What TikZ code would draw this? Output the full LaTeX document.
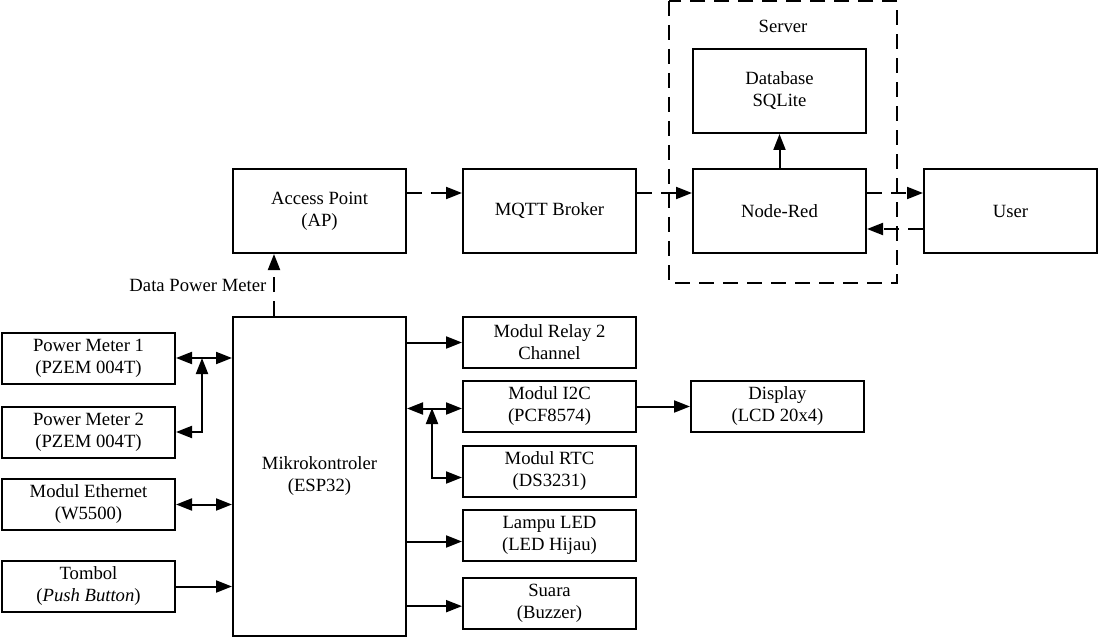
\documentclass[tikz,border=0pt]{standalone}
\usepackage{fontspec}
\setmainfont{Liberation Serif}
\usetikzlibrary{arrows.meta}

\tikzset{
    blok/.style={draw, line width=1.5pt, minimum width=129.75pt, minimum height=38.25pt, align=center, inner sep=2pt},
    blokbesar/.style={blok, minimum height=63pt},
    panah/.style={-{Triangle[length=12pt, width=9pt]}, line width=1.5pt},
    duapanah/.style={{Triangle[length=12pt, width=9pt]}-{Triangle[length=12pt, width=9pt]}, line width=1.5pt},
    putus/.style={dash pattern=on 11pt off 7pt}
}

\begin{document}
\begin{tikzpicture}[x=0.75pt, y=-0.75pt, font=\fontsize{14}{16.5}\selectfont]

        \useasboundingbox (0, 0) rectangle (1100, 638);

        % server
        \draw[line width=1.5pt, putus] (669, 1) rectangle (897, 283);
        \node (srv) at (783, 26) {Server};

        % baris atas
        \node[blokbesar] (ap) at (319.5, 211) {Access Point\\(AP)};
        \node[blokbesar] (mq) at (549.5, 211) {MQTT Broker};
        \node[blokbesar] (nr) at (779.5, 211) {Node-Red};
        \node[blokbesar] (us) at (1010.5, 211) {User};
        \node[blokbesar] (db) at (779.5, 91) {Database\\SQLite};

        % mikrokontroler
        \node[blok, minimum height=239.25pt] (mk) at (319.5, 476.5) {Mikrokontroler\\(ESP32)};

        % input
        \node[blok] (pm1) at (88.5, 358) {Power Meter 1\\(PZEM 004T)};
        \node[blok] (pm2) at (88.5, 432) {Power Meter 2\\(PZEM 004T)};
        \node[blok] (eth) at (88.5, 504.5) {Modul Ethernet\\(W5500)};
        \node[blok] (tb) at (88.5, 586.5) {Tombol\\(\textit{Push Button})};

        % output
        \node[blok] (rl) at (549.5, 342.5) {Modul Relay 2\\Channel};
        \node[blok] (i2c) at (549.5, 406.5) {Modul I2C\\(PCF8574)};
        \node[blok] (rtc) at (549.5, 471.5) {Modul RTC\\(DS3231)};
        \node[blok] (lp) at (549.5, 535.5) {Lampu LED\\(LED Hijau)};
        \node[blok] (sr) at (549.5, 603.5) {Suara\\(Buzzer)};
        \node[blok] (dsp) at (777.5, 406.5) {Display\\(LCD 20x4)};

        % jaringan
        \draw[panah, putus] ([xshift=31.5pt]mk.north west) -- node[left, inner sep=5pt]{Data Power Meter} ([xshift=31.5pt]ap.south west);
        \draw[panah, putus] ([yshift=13.5pt]ap.east) -- ([yshift=13.5pt]mq.west);
        \draw[panah, putus] ([yshift=13.5pt]mq.east) -- ([yshift=13.5pt]nr.west);
        \draw[panah, putus] ([yshift=13.5pt]nr.east) -- ([yshift=13.5pt]us.west);
        \draw[panah, putus] ([yshift=-13.5pt]us.west) -- ([yshift=-13.5pt]nr.east);
        \draw[panah] (nr.north) -- (db.south);

        % power meter
        \coordinate (cab1) at (202, 358);
        \draw[duapanah] (pm1.east) -- (pm1.east -| mk.west);
        \draw[duapanah] (pm2.east) -| (cab1);
        \draw[duapanah] (eth.east) -- (eth.east -| mk.west);
        \draw[panah] (tb.east) -- (tb.east -| mk.west);

        % I2C dan RTC
        \coordinate (cab2) at (432, 408);
        \draw[panah] (rl.west -| mk.east) -- (rl.west);
        \draw[duapanah] ([yshift=-1.5pt]i2c.west -| mk.east) -- ([yshift=-1.5pt]i2c.west);
        \draw[duapanah] (cab2) |- ([yshift=-4.5pt]rtc.west);
        \draw[panah] ([yshift=-4.5pt]lp.west -| mk.east) -- ([yshift=-4.5pt]lp.west);
        \draw[panah] ([yshift=-2pt]sr.west -| mk.east) -- ([yshift=-2pt]sr.west);
        \draw[panah] (i2c.east) -- (dsp.west);

    \end{tikzpicture}
\end{document}
